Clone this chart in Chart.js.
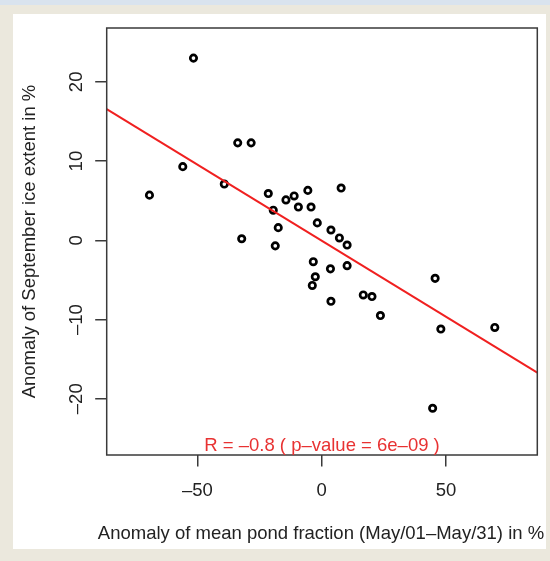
<!DOCTYPE html>
<html>
<head>
<meta charset="utf-8">
<script src="https://cdn.jsdelivr.net/npm/chart.js@4.4.1/dist/chart.umd.min.js"></script>
<style>
    html, body { margin: 0; padding: 0; }
    body { width: 550px; height: 561px; background: #ebe8dd; position: relative; overflow: hidden; }
    .faixa { position: absolute; left: 0; top: 0; width: 550px; height: 5px; background: #d9e3ee; }
    .painel { position: absolute; left: 12.5px; top: 14px; width: 533px; height: 535px; background: #fff; }
    #scatterChart { position: absolute; left: 0; top: 0; }
</style>
</head>
<body>
<div class="faixa"></div>
<div class="painel"></div>
<canvas id="scatterChart" width="550" height="561"></canvas>
<script>
// Anomalia da fração média de lagoas (maio) x anomalia da extensão de gelo em setembro, em %
const pondAnomaly = [
    -51.6, -69.3, -55.9, -33.8, -28.4, -39.2, -32.2, -21.5, -14.4, -11.1,
    -5.6, 7.8, -19.5, -9.4, -4.3, -17.5, -1.8, 3.7, 7.1, 10.2,
    -18.7, -3.4, 3.5, 10.2, -2.6, -3.8, 3.7, 16.7, 20.2, 23.6,
    45.6, 47.9, 69.6, 44.6
];
const iceAnomaly = [
    23.0, 5.7, 9.3, 12.3, 12.3, 7.1, 0.2, 5.9, 5.1, 5.6,
    6.3, 6.6, 3.8, 4.2, 4.2, 1.6, 2.2, 1.3, 0.3, -0.6,
    -0.7, -2.7, -3.6, -3.2, -4.6, -5.7, -7.7, -6.9, -7.1, -9.5,
    -4.8, -11.2, -11.0, -21.2
];

// Eixos
const xTicks = [-50, 0, 50];
const yTicks = [-20, -10, 0, 10, 20];
const xRange = [-86.5, 86.7];
const yRange = [-27.1, 26.8];
const xTitle = 'Anomaly of mean pond fraction (May/01\u2013May/31) in %';
const yTitle = 'Anomaly of September ice extent in %';

// Reta de regressão e texto da correlação
const fitSlope = -0.192;
const fitIntercept = -0.05;
const statsLabel = 'R = \u20130.8 ( p\u2013value = 6e\u201309 )';

const FONT_FAMILY = "'Liberation Sans', Arial, Helvetica, sans-serif";
const FONT_SIZE = 18.5;
const TEXT_COLOR = '#222';
const AXIS_COLOR = '#3a3a3a';
const FIT_COLOR = '#f02020';

// R escreve o sinal de menos como traço
function formatTick(value) {
    return value < 0 ? '\u2013' + Math.abs(value) : String(value);
}

// Moldura, rótulos verticais do eixo y, título do eixo x e texto da correlação
const rStylePlugin = {
    id: 'rStyle',
    afterDraw(chart) {
        const { ctx, chartArea: area, scales } = chart;
        const centerX = (area.left + area.right) / 2;
        ctx.save();
        ctx.strokeStyle = AXIS_COLOR;
        ctx.lineWidth = 1.5;
        ctx.strokeRect(area.left, area.top, area.right - area.left, area.bottom - area.top);

        ctx.font = FONT_SIZE + 'px ' + FONT_FAMILY;
        ctx.fillStyle = TEXT_COLOR;
        ctx.textAlign = 'center';
        ctx.textBaseline = 'alphabetic';
        scales.y.ticks.forEach(tick => {
            const y = scales.y.getPixelForValue(tick.value);
            ctx.save();
            ctx.translate(area.left - 25, y);
            ctx.rotate(-Math.PI / 2);
            ctx.fillText(formatTick(tick.value), 0, 0);
            ctx.restore();
        });

        // o título passa da largura do gráfico, então sem maxWidth
        ctx.textBaseline = 'middle';
        ctx.fillText(xTitle, centerX - 1, area.bottom + 79);

        ctx.textBaseline = 'alphabetic';
        ctx.fillStyle = '#e83232';
        ctx.fillText(statsLabel, centerX, area.bottom - 4);
        ctx.restore();
    }
};

Chart.defaults.font.family = FONT_FAMILY;
Chart.defaults.font.size = FONT_SIZE;
Chart.defaults.color = TEXT_COLOR;

const points = pondAnomaly.map((x, i) => ({ x: x, y: iceAnomaly[i] }));
const fitLine = xRange.map(x => ({ x: x, y: fitIntercept + fitSlope * x }));

new Chart(document.getElementById('scatterChart'), {
    type: 'scatter',
    data: {
        datasets: [
            {
                type: 'line',
                data: fitLine,
                borderColor: FIT_COLOR,
                borderWidth: 2,
                pointRadius: 0,
                fill: false,
                order: 0
            },
            {
                data: points,
                borderColor: '#000',
                backgroundColor: 'rgba(0,0,0,0)',
                pointRadius: 3.2,
                borderWidth: 2.7,
                order: 1
            }
        ]
    },
    plugins: [rStylePlugin],
    options: {
        responsive: false,
        animation: false,
        layout: {
            padding: { left: 0, top: 28, right: 12.7, bottom: 0 }
        },
        plugins: {
            legend: { display: false },
            tooltip: { enabled: false }
        },
        scales: {
            x: {
                type: 'linear',
                min: xRange[0],
                max: xRange[1],
                afterBuildTicks: scale => { scale.ticks = xTicks.map(v => ({ value: v })); },
                afterFit: scale => { scale.height = 106; },
                ticks: {
                    padding: 13,
                    maxRotation: 0,
                    callback: value => formatTick(value)
                },
                grid: {
                    drawOnChartArea: false,
                    drawTicks: true,
                    tickLength: 11.5,
                    color: AXIS_COLOR,
                    lineWidth: 1.5
                },
                border: { display: false },
                title: { display: false }
            },
            y: {
                type: 'linear',
                min: yRange[0],
                max: yRange[1],
                afterBuildTicks: scale => { scale.ticks = yTicks.map(v => ({ value: v })); },
                afterFit: scale => { scale.width = 106.7; },
                ticks: { display: false },
                grid: {
                    drawOnChartArea: false,
                    drawTicks: true,
                    tickLength: 11.5,
                    color: AXIS_COLOR,
                    lineWidth: 1.5
                },
                border: { display: false },
                title: {
                    display: true,
                    text: yTitle,
                    padding: { top: 18.4, bottom: 0 }
                }
            }
        }
    }
});
</script>
</body>
</html>
